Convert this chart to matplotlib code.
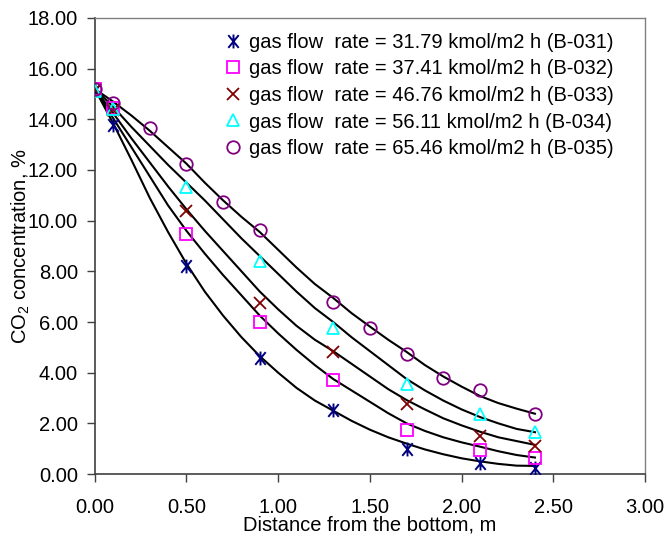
import matplotlib
matplotlib.use("Agg")
import matplotlib.pyplot as plt
from matplotlib.path import Path
import numpy as np

plt.rcParams['font.family'] = ['Liberation Sans', 'DejaVu Sans']
plt.rcParams['mathtext.default'] = 'regular'

# measured points (markers)
x_031 = [0.0, 0.1, 0.5, 0.9, 1.3, 1.7, 2.1, 2.4]
y_031 = [15.15, 13.78, 8.2, 4.57, 2.53, 0.99, 0.45, 0.25]
x_032 = [0.0, 0.1, 0.5, 0.9, 1.3, 1.7, 2.1, 2.4]
y_032 = [15.2, 14.44, 9.46, 6.0, 3.71, 1.73, 0.95, 0.62]
x_033 = [0.0, 0.1, 0.5, 0.9, 1.3, 1.7, 2.1, 2.4]
y_033 = [15.15, 14.37, 10.4, 6.74, 4.83, 2.76, 1.51, 1.11]
x_034 = [0.0, 0.1, 0.5, 0.9, 1.3, 1.7, 2.1, 2.4]
y_034 = [15.1, 14.42, 11.32, 8.4, 5.75, 3.54, 2.36, 1.65]
x_035 = [0.0, 0.1, 0.3, 0.5, 0.7, 0.9, 1.3, 1.5, 1.7, 1.9, 2.1, 2.4]
y_035 = [15.2, 14.63, 13.65, 12.25, 10.75, 9.63, 6.8, 5.78, 4.73, 3.79, 3.32, 2.37]

# model curves (black lines)
x_model = [0.0, 0.1, 0.2, 0.3, 0.4, 0.5, 0.6, 0.7, 0.8, 0.9, 1.0, 1.1, 1.2,
           1.3, 1.4, 1.5, 1.6, 1.7, 1.8, 1.9, 2.0, 2.1, 2.2, 2.3, 2.4]
m_031 = [15.2, 13.85, 12.4, 10.9, 9.55, 8.3, 7.2, 6.25, 5.4, 4.65, 4.0, 3.4, 2.9,
         2.5, 2.1, 1.75, 1.45, 1.2, 0.97, 0.78, 0.62, 0.5, 0.4, 0.33, 0.32]
m_032 = [15.2, 14.05, 12.9, 11.75, 10.6, 9.6, 8.7, 7.85, 7.05, 6.25, 5.55, 4.9, 4.3,
         3.75, 3.3, 2.85, 2.4, 2.0, 1.7, 1.45, 1.25, 1.08, 0.9, 0.75, 0.65]
m_033 = [15.2, 14.25, 13.25, 12.3, 11.35, 10.45, 9.6, 8.8, 8.0, 7.2, 6.5, 5.85, 5.3,
         4.85, 4.35, 3.85, 3.35, 2.92, 2.55, 2.2, 1.92, 1.67, 1.45, 1.3, 1.15]
m_034 = [15.2, 14.5, 13.7, 12.95, 12.2, 11.5, 10.8, 10.05, 9.3, 8.6, 7.9, 7.2, 6.55,
         6.0, 5.4, 4.85, 4.3, 3.75, 3.3, 2.9, 2.55, 2.25, 2.0, 1.78, 1.65]
m_035 = [15.2, 14.7, 14.15, 13.55, 12.9, 12.25, 11.5, 10.8, 10.15, 9.55, 8.85, 8.15, 7.5,
         6.95, 6.35, 5.82, 5.3, 4.82, 4.3, 3.85, 3.45, 3.08, 2.8, 2.58, 2.38]

labels = ["gas flow  rate = 31.79 kmol/m2 h (B-031)",
          "gas flow  rate = 37.41 kmol/m2 h (B-032)",
          "gas flow  rate = 46.76 kmol/m2 h (B-033)",
          "gas flow  rate = 56.11 kmol/m2 h (B-034)",
          "gas flow  rate = 65.46 kmol/m2 h (B-035)"]

# Excel-style asterisk: an X with a vertical bar
star = Path([(-0.45, -0.55), (0.45, 0.55), (-0.45, 0.55), (0.45, -0.55),
             (0, -0.6), (0, 0.6)],
            [Path.MOVETO, Path.LINETO, Path.MOVETO, Path.LINETO,
             Path.MOVETO, Path.LINETO])

fs = 14.5

fig = plt.figure(figsize=(6.68, 5.40), dpi=100)
ax = fig.add_axes([0.1418, 0.1222, 0.8238, 0.8445])

for m in [m_031, m_032, m_033, m_034, m_035]:
    ax.plot(x_model, m, color='black', lw=1.5, zorder=2)

ms = 8
ax.plot(x_031, y_031, ls='none', marker=star, ms=ms + 2, mew=1.4,
        color='#000080', label=labels[0], zorder=3)
ax.plot(x_032, y_032, ls='none', marker='s', ms=ms, mew=1.3, mfc='none',
        mec='#FF00FF', label=labels[1], zorder=3)
ax.plot(x_033, y_033, ls='none', marker='x', ms=ms + 1, mew=1.3,
        color='#800000', label=labels[2], zorder=3)
ax.plot(x_034, y_034, ls='none', marker='^', ms=ms, mew=1.3, mfc='none',
        mec='#00FFFF', label=labels[3], zorder=3)
ax.plot(x_035, y_035, ls='none', marker='o', ms=ms + 1, mew=1.3, mfc='none',
        mec='#800080', label=labels[4], zorder=3)

ax.set_xlim(0, 3)
ax.set_ylim(0, 18)
ax.set_xticks(np.arange(0, 3.01, 0.5))
ax.set_yticks(np.arange(0, 18.01, 2))
ax.set_xticklabels([f"{v:.2f}" for v in np.arange(0, 3.01, 0.5)])
ax.set_yticklabels([f"{v:.2f}" for v in np.arange(0, 18.01, 2)])
ax.tick_params(labelsize=fs, length=6, width=1, color='#404040', direction='out')
ax.tick_params(axis='y', pad=6)
ax.tick_params(axis='x', pad=11)

for s in ['top', 'right']:
    ax.spines[s].set_color('#808080')
    ax.spines[s].set_linewidth(1)
for s in ['left', 'bottom']:
    ax.spines[s].set_color('#404040')
    ax.spines[s].set_linewidth(1.2)

ax.set_xlabel("Distance from the bottom, m", fontsize=fs, labelpad=-1)
ax.set_ylabel("CO$_2$ concentration, %", fontsize=fs, labelpad=-3)

ax.legend(loc='upper left', frameon=False, fontsize=fs, handlelength=1.0,
          handletextpad=0.3, labelspacing=0.38, borderpad=0, borderaxespad=0,
          bbox_to_anchor=(0.233, 0.968))

fig.savefig("out.png", dpi=100)
